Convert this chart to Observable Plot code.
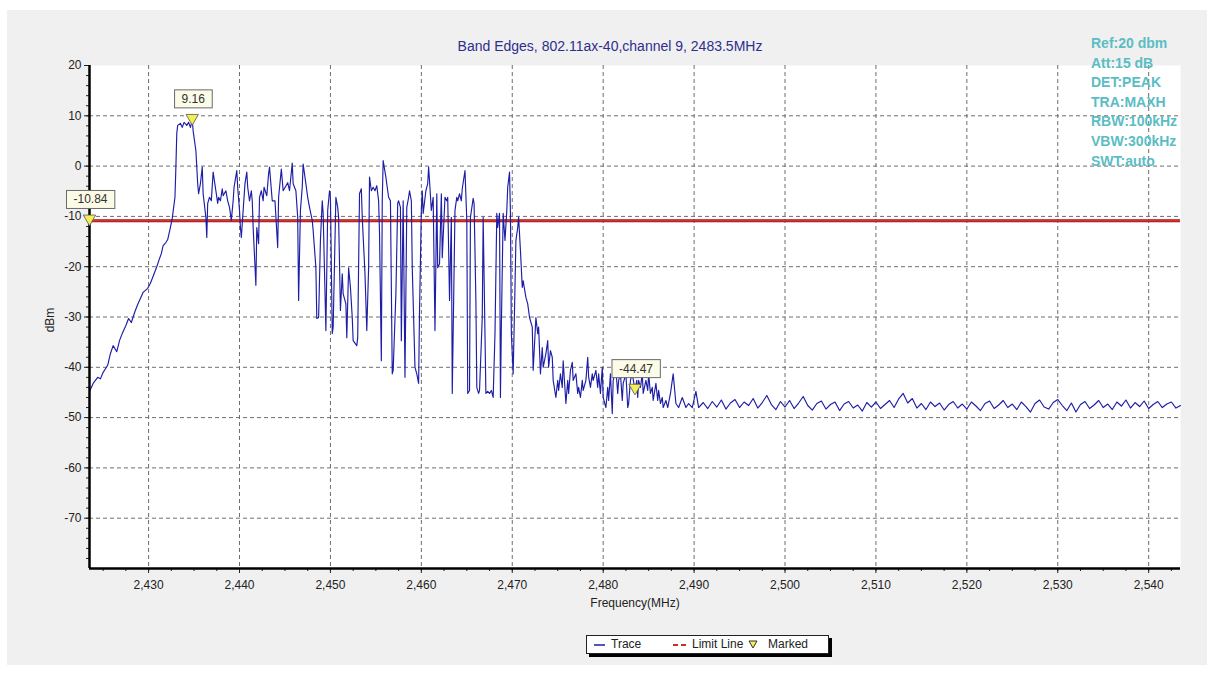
<!DOCTYPE html>
<html>
<head>
<meta charset="utf-8">
<script src="https://cdn.jsdelivr.net/npm/d3@7"></script>
<script src="https://cdn.jsdelivr.net/npm/@observablehq/plot@0.6"></script>
<style>
  body { margin: 0; background: #ffffff; font-family: "Liberation Sans", Arial, sans-serif; }
  #wrap { position: relative; width: 1214px; height: 679px; overflow: hidden; }
  #panel { position: absolute; left: 7px; top: 10px; width: 1200px; height: 655px; background: #f0f0f0; }
  #chart { position: absolute; left: 0; top: 0; }
  .abs { position: absolute; white-space: nowrap; }
  #title { left: 0; width: 1220px; top: 38px; text-align: center; font-size: 14px; color: #2e2e8c; }
  #info { left: 1091px; top: 34px; font-size: 14px; font-weight: bold; color: #5bbdc4; line-height: 19.6px; }
  #ylab { left: 50px; top: 320px; transform: translate(-50%, -50%) rotate(-90deg); font-size: 12px; color: #222; }
  #xlab { left: 635px; top: 596px; transform: translateX(-50%); font-size: 12px; color: #222; }
  #legend { left: 586px; top: 635px; width: 241px; height: 17px; background: #fff; border: 1px solid #222;
            box-shadow: 3px 3px 0 #000; font-size: 12px; color: #222; }
  #legend span { position: absolute; top: 1px; }
</style>
</head>
<body>
<div id="wrap">
  <div id="panel"></div>
  <div id="chart"></div>
  <div id="title" class="abs"></div>
  <div id="info" class="abs"></div>
  <div id="ylab" class="abs"></div>
  <div id="xlab" class="abs"></div>
  <div id="legend" class="abs"></div>
</div>
<script>
// ---------------- data ----------------
const titleText = "Band Edges, 802.11ax-40,channel 9, 2483.5MHz";
const infoLines = ["Ref:20 dbm", "Att:15 dB", "DET:PEAK", "TRA:MAXH", "RBW:100kHz", "VBW:300kHz", "SWT:auto"];
const xLabel = "Frequency(MHz)";
const yLabel = "dBm";
const legendLabels = ["Trace", "Limit Line", "Marked"];

const xDomain = [2423.5, 2543.5];
const yDomain = [-80, 20];
const xTicks = [2430, 2440, 2450, 2460, 2470, 2480, 2490, 2500, 2510, 2520, 2530, 2540];
const yTicks = [20, 10, 0, -10, -20, -30, -40, -50, -60, -70];
const yGrid = [10, 0, -10, -20, -30, -40, -50, -60, -70];
const limitLevel = -10.84;

const markerFreq = [2434.8, 2423.5, 2483.5];
const markerLevel = [9.16, -10.84, -44.47];

// trace [MHz, dBm]
const rampPoints = [[2423.5,-44.8],[2423.9,-43.2],[2424.4,-42.0],[2424.7,-42.3],[2425.0,-41.0],[2425.5,-39.6],[2425.8,-37.3],[2426.1,-35.7],[2426.5,-36.9],[2426.8,-34.7],[2427.1,-33.3],[2427.5,-31.7],[2427.8,-30.3],[2428.1,-31.1],[2428.5,-28.9],[2428.8,-27.5],[2429.1,-26.3],[2429.4,-25.1],[2429.9,-24.3],[2430.2,-23.3],[2430.5,-21.9],[2430.9,-20.0],[2431.2,-18.4],[2431.4,-17.4],[2431.6,-15.8],[2431.9,-15.2],[2432.1,-14.6],[2432.4,-12.2],[2432.6,-10.4],[2432.9,-6.2],[2433.0,-0.3],[2433.1,6.5],[2433.2,8.1],[2433.5,8.5],[2433.7,7.7],[2433.9,8.7],[2434.2,8.1],[2434.4,8.7],[2434.6,7.7],[2434.8,9.16],[2434.9,7.0],[2435.2,3.1]];

const bandPoints = [[2435.4,-3.5],[2435.5,-5.5],[2435.7,-3.5],[2435.9,-0.2],[2436.0,-5.5],[2436.3,-10.2],[2436.4,-14.2],[2436.5,-7.4],[2436.7,-6.2],[2436.9,-6.9],[2437.1,-1.2],[2437.4,-4.9],[2437.6,-7.4],[2437.7,-6.2],[2437.9,-6.9],[2438.1,-4.5],[2438.2,-5.9],[2438.5,-4.9],[2438.7,-6.9],[2438.9,-8.2],[2439.1,-10.8],[2439.3,-6.9],[2439.4,-4.2],[2439.7,-0.9],[2439.8,-4.2],[2440.0,-8.8],[2440.1,-12.2],[2440.2,-14.2],[2440.4,-8.8],[2440.6,-3.5],[2440.8,-1.2],[2440.9,-4.2],[2441.1,-6.9],[2441.3,-4.9],[2441.4,-6.9],[2441.5,-12.2],[2441.8,-23.7],[2441.9,-12.2],[2442.1,-15.4],[2442.2,-6.2],[2442.4,-4.9],[2442.6,-6.9],[2442.7,-4.2],[2443.0,-5.9],[2443.2,-1.5],[2443.3,-0.2],[2443.6,-6.9],[2443.9,-6.9],[2444.2,-16.2],[2444.3,-6.2],[2444.6,-0.6],[2444.8,-4.9],[2445.3,-3.3],[2445.5,-4.9],[2445.8,0.6],[2445.9,-3.5],[2446.2,-4.9],[2446.4,-10.2],[2446.5,-26.7],[2446.7,-8.8],[2446.9,-4.2],[2447.0,0.4],[2447.3,-3.5],[2447.5,-6.2],[2447.7,-8.2],[2448.0,-10.8],[2448.1,-12.8],[2448.4,-20.2],[2448.5,-30.3],[2448.7,-30.1],[2448.9,-14.8],[2449.1,-6.9],[2449.2,-9.4],[2449.5,-32.7],[2449.7,-8.8],[2449.9,-4.9],[2450.0,-6.2],[2450.2,-33.3],[2450.3,-32.0],[2450.6,-6.2],[2450.8,-8.2],[2450.9,-10.2],[2451.1,-28.7],[2451.3,-21.4],[2451.4,-25.4],[2451.7,-27.4],[2451.8,-34.1],[2452.0,-20.2],[2452.2,-24.1],[2452.4,-30.1],[2452.5,-34.7],[2452.9,-35.7],[2453.0,-34.1],[2453.2,-5.5],[2453.4,-4.5],[2453.5,-10.2],[2453.8,-21.4],[2454.0,-32.7],[2454.2,-20.2],[2454.3,-2.2],[2454.5,-4.9],[2454.7,-4.2],[2454.9,-4.9],[2455.1,-3.9],[2455.3,-6.9],[2455.4,-13.4],[2455.6,-38.7],[2455.7,-6.9],[2455.8,1.1],[2456.1,-2.2],[2456.3,-4.9],[2456.4,-6.2],[2456.6,-6.9],[2456.8,-41.3],[2456.9,-40.6],[2457.2,-25.4],[2457.4,-7.4],[2457.5,-6.9],[2457.7,-8.2],[2457.8,-34.7],[2458.0,-6.9],[2458.2,-42.0],[2458.4,-8.2],[2458.6,-6.2],[2458.7,-4.9],[2458.9,-6.9],[2459.0,-20.2],[2459.3,-40.0],[2459.5,-41.3],[2459.7,-43.2],[2459.8,-28.7],[2460.0,-8.8],[2460.1,-4.9],[2460.2,-9.4],[2460.5,-4.9],[2460.7,-3.5],[2460.8,-0.2],[2460.9,-2.9],[2461.1,-8.8],[2461.3,-6.2],[2461.5,-32.7],[2461.7,-5.5],[2461.8,-20.2],[2462.0,-19.4],[2462.2,-5.5],[2462.3,-18.2],[2462.6,-6.2],[2462.8,-6.9],[2462.9,-6.2],[2463.1,-26.7],[2463.3,-10.2],[2463.4,-45.2],[2463.7,-8.8],[2463.9,-6.2],[2464.0,-6.9],[2464.2,-5.5],[2464.4,-6.9],[2464.5,-4.5],[2464.8,-0.9],[2465.0,-10.8],[2465.1,-45.2],[2465.3,-44.6],[2465.4,-10.2],[2465.7,-6.4],[2465.8,-7.4],[2466.0,-26.7],[2466.1,-44.0],[2466.3,-45.2],[2466.4,-44.6],[2466.7,-30.1],[2466.8,-10.2],[2467.1,-45.2],[2467.3,-44.8],[2467.5,-45.2],[2467.7,-44.6],[2467.9,-46.0],[2468.1,-33.3],[2468.3,-9.4],[2468.4,-12.2],[2468.6,-9.4],[2468.7,-46.0],[2468.8,-32.0],[2469.0,-9.4],[2469.2,-14.8],[2469.4,-8.8],[2469.5,-4.2],[2469.7,-1.2],[2469.8,-9.4],[2469.9,-33.3],[2470.1,-41.3],[2470.3,-24.1],[2470.4,-14.8],[2470.6,-12.2],[2470.7,-10.2],[2470.9,-16.8]];

const skirtPoints = [[2471.1,-24.1],[2471.2,-22.8],[2471.5,-26.1],[2471.7,-27.4],[2471.9,-30.1],[2472.2,-32.0],[2472.3,-40.6],[2472.6,-30.1],[2472.8,-33.3],[2472.9,-32.0],[2473.1,-41.3],[2473.3,-36.1],[2473.4,-40.0],[2473.7,-37.3],[2473.9,-34.7],[2474.0,-40.0],[2474.2,-36.7],[2474.4,-38.0],[2474.5,-42.6],[2474.8,-46.0],[2475.0,-42.6],[2475.1,-44.6],[2475.3,-41.3],[2475.5,-44.0],[2475.6,-38.7],[2475.9,-47.2],[2476.1,-42.6],[2476.2,-45.2],[2476.4,-40.6],[2476.6,-39.0],[2476.7,-42.6],[2477.0,-41.3],[2477.2,-45.2],[2477.3,-44.0],[2477.5,-46.0],[2477.7,-42.6],[2477.8,-44.6],[2478.1,-42.6],[2478.3,-38.0],[2478.4,-41.9],[2478.6,-44.0],[2478.8,-41.3],[2478.9,-42.6],[2479.2,-40.6],[2479.4,-44.0],[2479.5,-41.3],[2479.7,-45.2],[2479.9,-40.0],[2480.0,-46.0],[2480.3,-48.0],[2480.5,-44.0],[2480.6,-46.6],[2480.8,-41.3],[2481.0,-49.2],[2481.1,-42.6],[2481.4,-40.6],[2481.6,-45.2],[2481.7,-42.6],[2481.9,-41.3],[2482.1,-46.6],[2482.2,-43.2],[2482.5,-41.3],[2482.7,-48.0],[2482.8,-47.2],[2483.0,-42.6],[2483.2,-41.3],[2483.5,-44.5],[2483.7,-42.6],[2483.8,-46.0],[2483.9,-42.6],[2484.1,-44.0],[2484.3,-41.3],[2484.4,-45.2],[2484.7,-42.6],[2484.9,-44.6],[2485.0,-41.3],[2485.2,-45.2],[2485.4,-44.0],[2485.5,-46.6],[2485.8,-43.2],[2486.0,-46.6],[2486.1,-44.6],[2486.3,-47.2],[2486.5,-46.0],[2486.6,-48.0],[2486.9,-46.6],[2487.1,-48.0],[2487.4,-45.2],[2487.7,-41.3],[2488.0,-47.2],[2488.3,-48.0],[2488.7,-46.0],[2489.1,-48.0],[2489.4,-47.2],[2489.8,-48.0],[2490.2,-44.8],[2490.5,-48.0]];

const floorPoints = [[2491.0,-47.0],[2491.5,-48.2],[2492.0,-46.8],[2492.5,-47.9],[2493.0,-46.5],[2493.5,-48.3],[2494.0,-47.1],[2494.5,-46.4],[2495.0,-48.0],[2495.5,-46.9],[2496.0,-47.6],[2496.5,-46.2],[2497.0,-48.1],[2497.5,-47.0],[2498.0,-45.6],[2498.5,-47.4],[2499.0,-48.4],[2499.5,-46.8],[2500.0,-47.9],[2500.5,-46.6],[2501.0,-48.2],[2501.5,-47.1],[2502.0,-45.8],[2502.5,-47.6],[2503.0,-48.5],[2503.5,-47.2],[2504.0,-46.7],[2504.5,-48.3],[2505.0,-47.4],[2505.5,-46.9],[2506.0,-48.6],[2506.5,-47.3],[2507.0,-46.8],[2507.5,-48.1],[2508.0,-47.5],[2508.5,-48.7],[2509.0,-47.0],[2509.5,-47.9],[2510.0,-46.9],[2510.5,-48.2],[2511.0,-47.4],[2511.5,-46.6],[2512.0,-48.0],[2512.5,-46.3],[2513.0,-45.2],[2513.5,-47.1],[2514.0,-46.2],[2514.5,-48.1],[2515.0,-47.2],[2515.5,-48.4],[2516.0,-46.9],[2516.5,-47.8],[2517.0,-47.1],[2517.5,-48.5],[2518.0,-47.4],[2518.5,-46.8],[2519.0,-48.1],[2519.5,-47.3],[2520.0,-48.3],[2520.5,-46.9],[2521.0,-47.7],[2521.5,-48.6],[2522.0,-47.2],[2522.5,-46.7],[2523.0,-48.2],[2523.5,-47.5],[2524.0,-46.6],[2524.5,-48.0],[2525.0,-47.3],[2525.5,-48.4],[2526.0,-46.9],[2526.5,-47.8],[2527.0,-48.9],[2527.5,-47.2],[2528.0,-46.5],[2528.5,-47.9],[2529.0,-48.3],[2529.5,-47.0],[2530.0,-46.4],[2530.5,-47.6],[2531.0,-48.6],[2531.5,-47.1],[2532.0,-48.9],[2532.5,-47.4],[2533.0,-46.8],[2533.5,-48.2],[2534.0,-47.5],[2534.5,-46.6],[2535.0,-48.0],[2535.5,-47.3],[2536.0,-48.4],[2536.5,-46.9],[2537.0,-47.7],[2537.5,-46.5],[2538.0,-48.1],[2538.5,-47.0],[2539.0,-47.8],[2539.5,-46.7],[2540.0,-48.2],[2540.5,-47.4],[2541.0,-46.8],[2541.5,-48.0],[2542.0,-47.3],[2542.5,-46.9],[2543.0,-48.1],[2543.5,-47.6]];

// ---------------- build ----------------
const trace = [...rampPoints, ...bandPoints, ...skirtPoints, ...floorPoints].map(([f, v]) => ({f, v}));
const markers = markerFreq.map((f, i) => ({f, v: markerLevel[i]}));
const xMinor = d3.range(xDomain[0] + 1.5, xDomain[1], 2.5);
const yMinor = d3.range(-78, 20, 2);

const grid = {stroke: "#6e6e6e", strokeOpacity: 1, strokeWidth: 1, strokeDasharray: "4,3"};

const chart = Plot.plot({
  width: 1214,
  height: 679,
  marginLeft: 89,
  marginRight: 34,
  marginTop: 65,
  marginBottom: 111,
  style: {background: "transparent", fontFamily: "'Liberation Sans', Arial, sans-serif", fontSize: "12px", color: "#222", overflow: "visible"},
  x: {domain: xDomain},
  y: {domain: yDomain},
  marks: [
    Plot.frame({fill: "white"}),
    Plot.gridX({ticks: xTicks, ...grid}),
    Plot.gridY({ticks: yGrid, ...grid}),
    Plot.ruleY([limitLevel], {stroke: "#8e1a1a", strokeWidth: 3}),
    Plot.ruleY([limitLevel], {stroke: "#dc3030", strokeWidth: 1.6}),
    Plot.line(trace, {x: "f", y: "v", stroke: "#1d1da6", strokeWidth: 1.15}),
    Plot.axisX({ticks: xMinor, tickSize: 3, tickFormat: () => null, label: null}),
    Plot.axisX({ticks: xTicks, tickSize: 5, tickPadding: 7, tickFormat: d3.format(","), label: null, fontSize: 12}),
    Plot.axisY({ticks: yMinor, tickSize: 3, tickFormat: () => null, label: null}),
    Plot.axisY({ticks: yTicks, tickSize: 5, tickPadding: 3, tickFormat: d => String(d), label: null, fontSize: 12}),
    Plot.ruleX([xDomain[0]], {stroke: "#000", strokeWidth: 2.5}),
    Plot.ruleY([yDomain[0]], {stroke: "#000", strokeWidth: 2.5}),
    Plot.dot(markers, {x: "f", y: "v", symbol: "triangle", rotate: 180, r: 4.6, dy: -2, fill: "#f2ee55", stroke: "#555", strokeWidth: 0.8}),
    Plot.text(markers, {x: "f", y: "v", text: d => d.v.toFixed(2), dy: -21, dx: 1, fill: "#333", fontSize: 12})
  ]
});
document.getElementById("chart").appendChild(chart);

// boxes behind the marker labels (the only plain text mark in the chart)
d3.select(chart).selectAll('g[aria-label="text"] text').each(function () {
  const b = this.getBBox();
  const r = document.createElementNS("http://www.w3.org/2000/svg", "rect");
  const t = this.getAttribute("transform");
  if (t) r.setAttribute("transform", t);
  r.setAttribute("x", b.x - 7);
  r.setAttribute("y", b.y - 2);
  r.setAttribute("width", b.width + 14);
  r.setAttribute("height", b.height + 4);
  r.setAttribute("fill", "#fbfbe8");
  r.setAttribute("stroke", "#6a6a6a");
  r.setAttribute("stroke-width", "1");
  this.parentNode.insertBefore(r, this);
});

// texts
document.getElementById("title").textContent = titleText;
document.getElementById("info").innerHTML = infoLines.map(s => `<div>${s}</div>`).join("");
document.getElementById("ylab").textContent = yLabel;
document.getElementById("xlab").textContent = xLabel;
document.getElementById("legend").innerHTML =
  `<svg width="241" height="17" style="position:absolute;left:0;top:0">
     <line x1="7" x2="18" y1="9" y2="9" stroke="#1d1da6" stroke-width="1.5"/>
     <line x1="86" x2="101" y1="9" y2="9" stroke="#d22b2b" stroke-width="2" stroke-dasharray="5,3"/>
     <path d="M162,5 L170,5 L166,12 Z" fill="#f2ee55" stroke="#333" stroke-width="1"/>
   </svg>
   <span style="left:24px">${legendLabels[0]}</span>
   <span style="left:105px">${legendLabels[1]}</span>
   <span style="left:181px">${legendLabels[2]}</span>`;
</script>
</body>
</html>
